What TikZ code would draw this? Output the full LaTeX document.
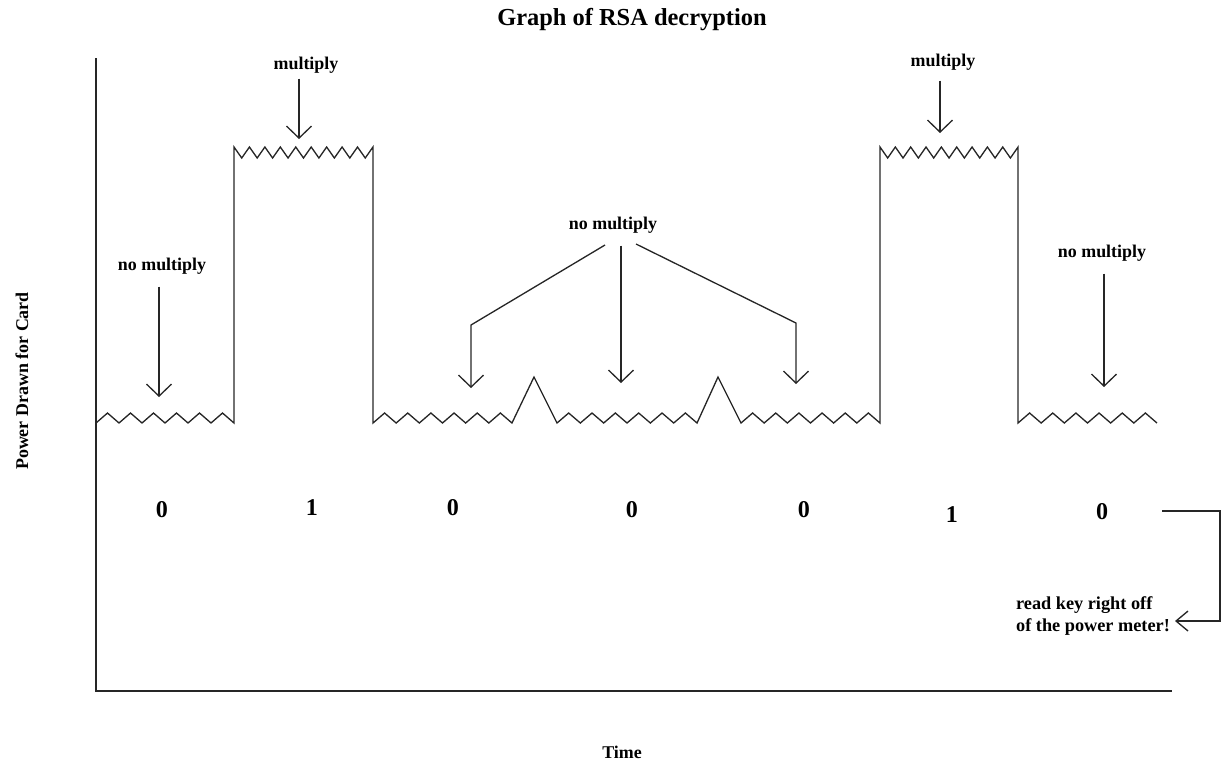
\documentclass[tikz,border=0pt]{standalone}
\usepackage{fontspec}
\setmainfont{Liberation Serif}
\usetikzlibrary{arrows.meta}

\begin{document}
\begin{tikzpicture}[
    x=0.2mm, y=-0.2mm,
    signal/.style={draw=black!85, line width=0.75pt, line join=miter},
    axis/.style={draw=black!85, line width=0.75pt},
    ptr/.style={draw=black!85, line width=0.75pt,
        -{Straight Barb[length=2.4mm, width=5mm, line width=0.75pt]}},
    lbl/.style={inner sep=0pt, font=\fontsize{10.2}{12}\selectfont\bfseries},
    bit/.style={inner sep=0pt, font=\fontsize{13.7}{16}\selectfont\bfseries}]

\useasboundingbox (0,0) rectangle (1223,771);

% titles and axes
\node[inner sep=0pt, font=\fontsize{13.9}{16}\selectfont\bfseries] (title) at (632,20) {Graph of RSA decryption};
\node[lbl, rotate=90] (ylabel) at (22,381) {Power Drawn for Card};
\node[lbl] (xlabel) at (622,752) {Time};
\coordinate (origin) at (96,691);
\coordinate (ytop) at (96,58);
\coordinate (xend) at (1172,691);
\draw[axis] (ytop) -- (origin) -- (xend);

% power trace
\draw[signal] (96,423)
    \foreach \i in {1,...,6} {-- ++(11.5,-10) -- ++(11.5,10)}
    -- (234,147)
    \foreach \i in {1,...,9} {-- ++(7.72,11) -- ++(7.72,-11)}
    -- (373,423)
    \foreach \i in {1,...,6} {-- ++(11.58,-10) -- ++(11.58,10)}
    -- (534,377) -- (557,423)
    \foreach \i in {1,...,6} {-- ++(11.67,-10) -- ++(11.67,10)}
    -- (718,377) -- (741,423)
    \foreach \i in {1,...,6} {-- ++(11.58,-10) -- ++(11.58,10)}
    -- (880,147)
    \foreach \i in {1,...,9} {-- ++(7.67,11) -- ++(7.67,-11)}
    -- (1018,423)
    \foreach \i in {1,...,6} {-- ++(11.58,-10) -- ++(11.58,10)};

% labels with pointers
\node[lbl] (nomul1) at (162,266) {no multiply};
\coordinate (tip1) at (159,397);
\draw[ptr] (nomul1.south -| tip1) ++(0,12) -- (tip1);

\node[lbl] (mul1) at (306,65) {multiply};
\coordinate (tip2) at (299,139);
\draw[ptr] (mul1.south -| tip2) ++(0,5) -- (tip2);

\node[lbl] (nomul2) at (613,225) {no multiply};
\coordinate (startL) at (605,245);
\coordinate (bendL) at (471,325);
\coordinate (tipL) at (471,388);
\coordinate (tipM) at (621,383);
\coordinate (startR) at (636,244);
\coordinate (bendR) at (796,323);
\coordinate (tipR) at (796,384);
\draw[ptr] (startL) -- (bendL) -- (tipL);
\draw[ptr] (nomul2.south -| tipM) ++(0,12) -- (tipM);
\draw[ptr] (startR) -- (bendR) -- (tipR);

\node[lbl] (mul2) at (943,62) {multiply};
\coordinate (tip3) at (940,133);
\draw[ptr] (mul2.south -| tip3) ++(0,10) -- (tip3);

\node[lbl] (nomul3) at (1102,253) {no multiply};
\coordinate (tip4) at (1104,387);
\draw[ptr] (nomul3.south -| tip4) ++(0,12) -- (tip4);

% key bits
\foreach \x/\y/\b [count=\k] in {162/510/0, 312/508/1, 453/508/0, 632/510/0,
                                 804/510/0, 952/515/1, 1102/512/0}
    \node[bit] (bit\k) at (\x,\y) {\b};

% read-out note
\node[lbl, align=left, font=\fontsize{10.4}{12}\selectfont\bfseries] (note) at (1093,616)
    {read key right off\\of the power meter!};
\coordinate (keyout) at (1162,511);
\coordinate (keycorner) at (1220,621);
\coordinate (keyin) at (1175,621);
\draw[ptr, -{Straight Barb[length=2.4mm, width=4mm, line width=0.75pt]}]
    (keyout) -| (keycorner) -- (keyin);
\end{tikzpicture}
\end{document}
